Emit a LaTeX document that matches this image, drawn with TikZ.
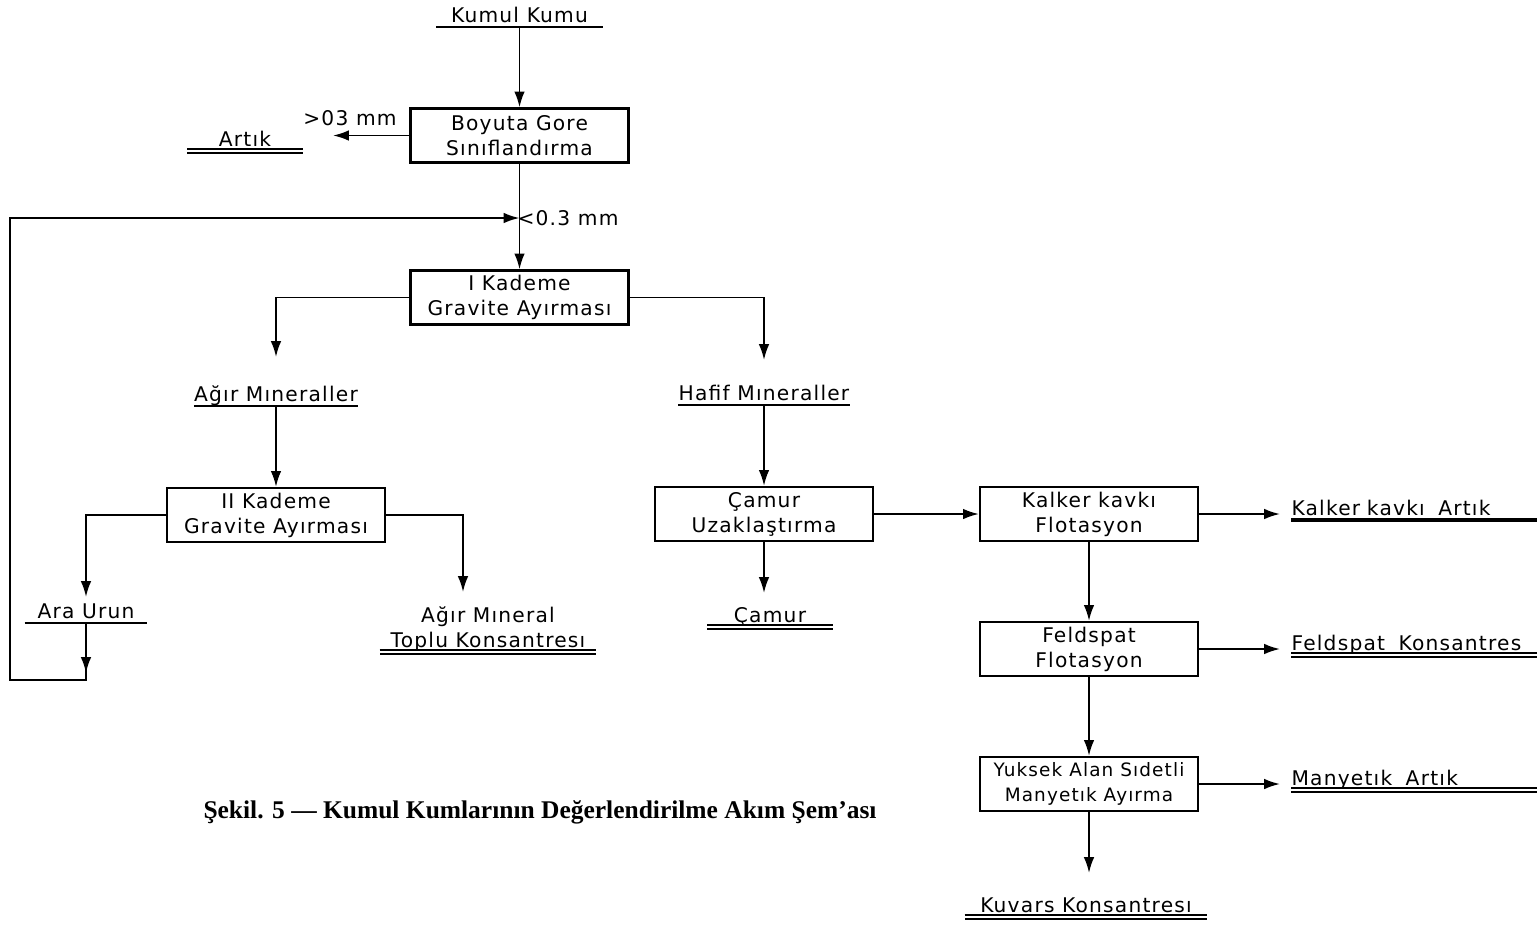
\documentclass[tikz,border=0pt]{standalone}
\usepackage{fontspec}
\setmainfont{DejaVu Sans}[LetterSpace=6]
\newfontfamily\titlefont{Liberation Serif}
\usetikzlibrary{arrows.meta, positioning}

\begin{document}
\begin{tikzpicture}[
    x=0.02cm, y=-0.02cm,
    font=\fontsize{11.5}{14.2}\selectfont,
    box/.style={rectangle, draw, line width=1.3pt, minimum width=4.36cm, minimum height=1.08cm,
        align=center, inner sep=2pt},
    lbl/.style={inner xsep=0pt, inner ysep=2.5pt, text depth=0pt, anchor=south, align=center},
    ul/.style={lbl, append after command={(\tikzlastnode.south west) edge[line width=1pt] (\tikzlastnode.south east)}},
    dul/.style={lbl, append after command={(\tikzlastnode.south west) edge[double, double distance=1.2pt, line width=0.9pt] (\tikzlastnode.south east)}},
    tul/.style={lbl, append after command={(\tikzlastnode.south west) edge[line width=2.4pt] (\tikzlastnode.south east)}},
    line/.style={line width=1.1pt},
    arrow/.style={line, -{Latex[length=9pt, width=6pt]}}]

    \useasboundingbox (0,0) rectangle (1540,927);

    \node[box] (sort) at (519.5,135.5) {Boyuta Gore\\Sınıflandırma};
    \node[box] (kad1) at (519.5,297.5) {I Kademe\\Gravite Ayırması};
    \node[box] (kad2) at (276,515) {II Kademe\\Gravite Ayırması};
    \node[box] (desl) at (764,514) {Çamur\\Uzaklaştırma};
    \node[box] (kflot) at (1089,514) {Kalker kavkı\\Flotasyon};
    \node[box] (fflot) at (1089,649) {Feldspat\\Flotasyon};
    \node[box, font=\fontsize{10.5}{14.2}\selectfont] (magn) at (1089,784) {Yuksek Alan Sıdetli\\Manyetık Ayırma};

    \node[ul, minimum width=3.32cm] (sand) at (519.5,27) {Kumul Kumu};
    \node[dul, minimum width=2.3cm] (rej) at (245,151) {Artık};
    \node[ul, minimum width=3.24cm] (heavy) at (276,406) {Ağır Mıneraller};
    \node[ul, minimum width=3.32cm] (light) at (764,405) {Hafif Mıneraller};
    \node[ul, minimum width=2.44cm] (midp) at (86,623) {Ara Urun};
    \node[dul, minimum width=4.32cm] (hconc) at (488,652) {Ağır Mıneral\\Toplu Konsantresı};
    \node[dul, minimum width=2.5cm] (slime) at (770,627) {Çamur};
    \node[tul, text width=4.9cm, align=left] (limrej) at (1414,520) {Kalker kavkı~~Artık};
    \node[dul, text width=4.9cm, align=left] (fconc) at (1414,655) {Feldspat~~Konsantres};
    \node[dul, text width=4.9cm, align=left] (mrej) at (1414,790) {Manyetık~~Artık};
    \node[dul, minimum width=4.84cm] (qconc) at (1086,917) {Kuvars Konsantresı};

    \node (coarse) at (350,118) {>03 mm};
    \node (fine) at (568,218) {<0.3 mm};
    \node[font=\titlefont\bfseries\fontsize{14.5}{16}\selectfont] (title) at (540,812)
        {Şekil. 5 — Kumul Kumlarının Değerlendirilme Akım Şem’ası};

    \coordinate (rejE) at (333,135.5);
    \coordinate (heavyE) at (276,357);
    \coordinate (lightE) at (764,360);
    \coordinate (midE) at (86,597);
    \coordinate (hconcE) at (463,592);
    \coordinate (slimeE) at (764,593);
    \coordinate (limE) at (1280,514);
    \coordinate (fE) at (1280,649);
    \coordinate (mE) at (1280,784);
    \coordinate (qE) at (1089,873);
    \coordinate (loopc) at (10,680);
    \coordinate (loopin) at (519.5,218);

    \draw[arrow] (sand.south) -- (sort.north);
    \draw[arrow] (sort.west) -- (rejE);
    \draw[arrow] (sort.south) -- (kad1.north);
    \draw[arrow] (kad1.west) -| (heavyE);
    \draw[arrow] (kad1.east) -| (lightE);
    \draw[arrow] (heavy.south) -- (kad2.north);
    \draw[arrow] (kad2.west) -| (midE);
    \draw[arrow] (kad2.east) -| (hconcE);
    \draw[arrow] (midp.south) -- ++(0,50);
    \draw[arrow] (midp.south) |- (loopc) |- (loopin);
    \draw[arrow] (light.south) -- (desl.north);
    \draw[arrow] (desl.south) -- (slimeE);
    \draw[arrow] (desl.east) -- (kflot.west);
    \draw[arrow] (kflot.east) -- (limE);
    \draw[arrow] (kflot.south) -- (fflot.north);
    \draw[arrow] (fflot.east) -- (fE);
    \draw[arrow] (fflot.south) -- (magn.north);
    \draw[arrow] (magn.east) -- (mE);
    \draw[arrow] (magn.south) -- (qE);
\end{tikzpicture}
\end{document}
